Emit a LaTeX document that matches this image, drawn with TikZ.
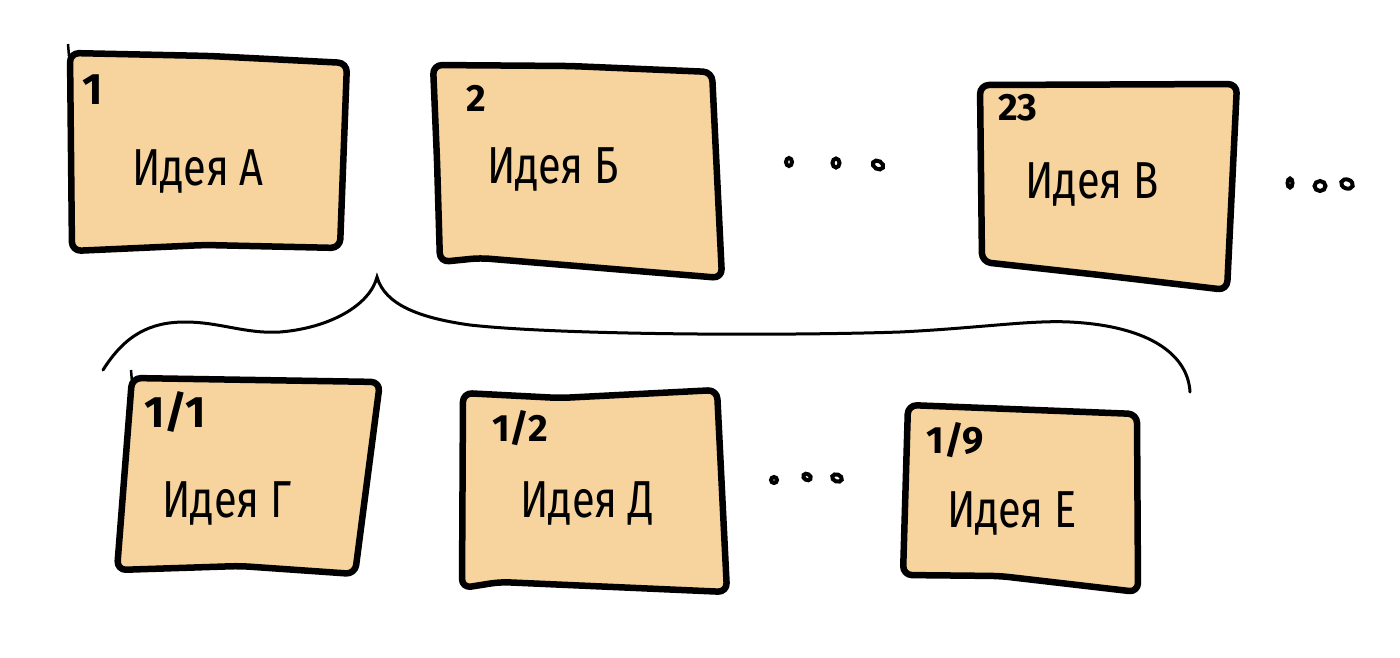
\documentclass[tikz,border=0pt]{standalone}
\usepackage{fontspec}
\usepackage{graphicx}
\setmainfont{Fira Sans}
\definecolor{boxfill}{HTML}{F7D39E}
\newcommand{\ideatext}[1]{\scalebox{0.8}[1]{#1}}
\tikzset{
  card/.style={fill=boxfill, draw=black, line width=6.5pt, line join=round, rounded corners=9pt},
  tick/.style={draw=black, line width=2.5pt},
  ideal/.style={anchor=base, inner sep=0pt, font=\fontsize{52}{60}\selectfont},
  numl/.style={inner sep=0pt, font=\fontsize{38}{42}\selectfont\bfseries},
  bigl/.style={inner sep=0pt, font=\fontsize{44}{48}\selectfont\bfseries},
  bracel/.style={draw=black, line width=3pt, line cap=round},
  dotm/.style={draw=black, line width=4pt, fill=white}
}
\begin{document}
\begin{tikzpicture}[x=1pt,y=-1pt]
\useasboundingbox[fill=white] (0,0) rectangle (1400,657);
% top row cards
\draw[card] (70,53) -- (210,56) -- (347,63) -- (340,248) -- (205,245) -- (72,251) -- cycle;
\draw[tick] (68,44) -- (69,56);
\draw[card] (433,65) -- (570,66) -- (712,72) -- (722,278) -- (480,258) -- (440,262) -- (437,160) -- cycle;
\draw[card] (980,85) -- (1237,84) -- (1227,290) -- (1100,275) -- (982,262) -- cycle;
% bottom row cards
\draw[card] (132,378) -- (380,382) -- (355,574) -- (240,566) -- (117,570) -- cycle;
\draw[tick] (131,370) -- (132,382);
\draw[card] (463,393) -- (560,398) -- (717,390) -- (727,592) -- (500,582) -- (462,588) -- cycle;
\draw[card] (908,405) -- (1137,414) -- (1138,592) -- (1000,576) -- (903,575) -- cycle;
% labels
\node[ideal] (ia) at (198,185) {\ideatext{Идея А}};
\node[ideal] (ib) at (553,183) {\ideatext{Идея Б}};
\node[ideal] (ic) at (1092,198) {\ideatext{Идея В}};
\node[ideal] (ig) at (227,517) {\ideatext{Идея Г}};
\node[ideal] (id) at (587,517) {\ideatext{Идея Д}};
\node[ideal] (ie) at (1012,527) {\ideatext{Идея Е}};
% numbers
\node[bigl] (na) at (93,90) {1};
\node[numl] (nb) at (476,98) {2};
\node[numl] (nc) at (1018,108) {23};
\node[bigl] (ng) at (175,412) {1/1};
\node[numl] (nd) at (520,428) {1/2};
\node[numl] (ne) at (955,440) {1/9};
% dots
\draw[dotm] (789,162) ellipse [x radius=3pt, y radius=4pt];
\draw[dotm] (836,163) ellipse [x radius=3.5pt, y radius=4.5pt];
\draw[dotm, rotate around={-30:(878,165)}] (878,165) ellipse [x radius=5.5pt, y radius=4pt];
\draw[dotm] (1290,183) ellipse [x radius=2.5pt, y radius=4.5pt];
\draw[dotm] (1320,186) ellipse [x radius=5.5pt, y radius=5pt];
\draw[dotm, rotate around={-20:(1347,184)}] (1347,184) ellipse [x radius=6pt, y radius=4.5pt];
\draw[dotm] (774,480) ellipse [x radius=3pt, y radius=3pt];
\draw[dotm, rotate around={-30:(807,477)}] (807,477) ellipse [x radius=4pt, y radius=3pt];
\draw[dotm, rotate around={-20:(837,478)}] (837,478) ellipse [x radius=5pt, y radius=3.5pt];
% brace
\coordinate (bl) at (103,370);
\coordinate (bt) at (377,277);
\coordinate (br) at (1190,392);
\draw[bracel] (bl) .. controls (125,335) and (150,322) .. (185,322)
  .. controls (220,322) and (245,334) .. (280,332)
  .. controls (330,328) and (370,305) .. (bt)
  .. controls (385,305) and (420,318) .. (470,325)
  .. controls (560,335) and (780,336) .. (900,332)
  .. controls (980,328) and (1030,320) .. (1070,322)
  .. controls (1150,326) and (1188,355) .. (br);
\end{tikzpicture}
\end{document}
